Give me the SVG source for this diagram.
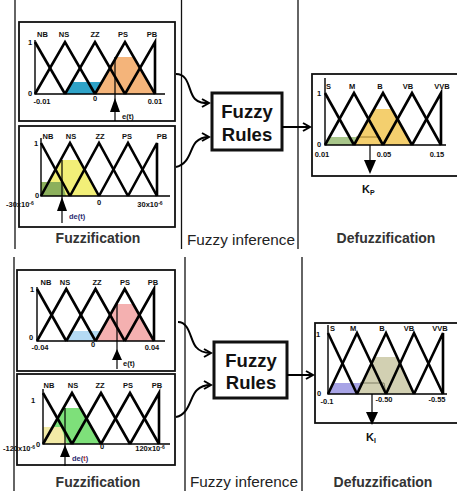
<svg xmlns="http://www.w3.org/2000/svg" width="457" height="491" viewBox="0 0 457 491">
<defs>
<style>
.sep{stroke:#111;stroke-width:1.3;fill:none}
.box{fill:#fff;stroke:#111;stroke-width:1.8}
.rules{fill:#fff;stroke:#111;stroke-width:3}
.mf{fill:none;stroke:#000;stroke-width:2.6;stroke-linejoin:miter}
.ax{fill:none;stroke:#000;stroke-width:1.4}
.ptr{fill:none;stroke:#000;stroke-width:1.2}
.lbl{font-family:"Liberation Sans",Arial,sans-serif;font-weight:bold;font-size:7.5px;fill:#111}
.tick{font-family:"Liberation Sans",Arial,sans-serif;font-weight:bold;font-size:7.5px;fill:#111;text-anchor:middle}
.sec{font-family:"Liberation Sans",Arial,sans-serif;font-weight:bold;font-size:14px;fill:#333;text-anchor:middle}
.inf{font-family:"Liberation Sans",Arial,sans-serif;font-size:14px;fill:#222}
.fr{font-family:"Liberation Sans",Arial,sans-serif;font-weight:bold;font-size:18.5px;fill:#111;text-anchor:middle}
.k{font-family:"Liberation Sans",Arial,sans-serif;font-weight:bold;font-size:11px;fill:#111}
.dt{font-family:"Liberation Sans",Arial,sans-serif;font-weight:bold;font-size:7.5px;fill:#2b2b70}
.con{fill:none;stroke:#000;stroke-width:2}
</style>
<marker id="ah" markerWidth="10" markerHeight="10" refX="8" refY="5" orient="auto" markerUnits="userSpaceOnUse">
<path d="M1,1 L8,5 L1,9" fill="none" stroke="#000" stroke-width="2"/>
</marker>
</defs>

<!-- section separators -->
<g id="separators">
<line class="sep" x1="15" y1="0" x2="15" y2="249"/>
<line class="sep" x1="181.5" y1="0" x2="181.5" y2="249"/>
<line class="sep" x1="298" y1="0" x2="298" y2="249"/>
<line class="sep" x1="14" y1="257" x2="14" y2="491"/>
<line class="sep" x1="185" y1="257" x2="185" y2="491"/>
<line class="sep" x1="302" y1="257" x2="302" y2="491"/>
</g>

<!-- Box 1: e(t) top -->
<g id="fuzz-e-top">
<rect class="box" x="19" y="22" width="156" height="99"/>
<polygon points="65,94 72,82 118,82 125,94" fill="#2fa3c8"/>
<polygon points="95,94 116,57 134,57 155,94" fill="#f4b47a"/>
<polyline class="ax" points="35,40 35,94 165,94"/>
<polyline class="mf" points="35,42 65,94"/>
<polyline class="mf" points="35,94 65,42 95,94"/>
<polyline class="mf" points="65,94 95,42 125,94"/>
<polyline class="mf" points="95,94 125,42 155,94"/>
<polyline class="mf" points="125,94 155,42 155,94"/>
<text class="lbl" x="37" y="37">NB</text>
<text class="tick" x="64" y="37">NS</text>
<text class="tick" x="95" y="37">ZZ</text>
<text class="tick" x="123" y="37">PS</text>
<text class="tick" x="152" y="37">PB</text>
<text class="tick" x="30" y="45">1</text>
<text class="tick" x="30" y="96">0</text>
<text class="tick" x="42" y="104">-0.01</text>
<text class="tick" x="95" y="101">0</text>
<text class="tick" x="155" y="104">0.01</text>
<line class="ptr" x1="115" y1="57" x2="115" y2="121"/>
<polygon points="115,98 110,112 120,112" fill="#000"/>
<text class="lbl" x="122" y="119">e(t)</text>
</g>

<!-- Box 2: de(t) top -->
<g id="fuzz-de-top">
<rect class="box" x="19" y="126" width="156" height="101"/>
<polygon points="41,196 60.7,160 79.3,160 99,196" fill="#f2ef78"/>
<polygon points="41,196 41,182 62,182 66,196" fill="#8cb05c"/>
<polyline class="ax" points="41,138 41,196 170,196"/>
<polyline class="mf" points="41,143 70,196"/>
<polyline class="mf" points="41,196 70,143 99,196"/>
<polyline class="mf" points="70,196 99,143 128,196"/>
<polyline class="mf" points="99,196 128,143 157,196"/>
<polyline class="mf" points="128,196 157,143 157,196"/>
<text class="tick" x="48" y="139">NB</text>
<text class="tick" x="71" y="139">NS</text>
<text class="tick" x="100" y="139">ZZ</text>
<text class="tick" x="127" y="139">PS</text>
<text class="tick" x="162" y="139">PB</text>
<text class="tick" x="36" y="146">1</text>
<text class="tick" x="37" y="198">0</text>
<text class="lbl" x="6" y="207">-30x10<tspan font-size="5" dy="-2">-6</tspan></text>
<text class="tick" x="99" y="205">0</text>
<text class="tick" x="150" y="207">30x10<tspan font-size="5" dy="-2">-6</tspan></text>
<line class="ptr" x1="62" y1="160" x2="62" y2="223"/>
<polygon points="62,197 57,211 67,211" fill="#000"/>
<text class="dt" x="69" y="219">de(t)</text>
</g>

<!-- Box 3: e(t) bottom -->
<g id="fuzz-e-bottom">
<rect class="box" x="17" y="270" width="158" height="101"/>
<polygon points="66,341 72,331 119,331 125,341" fill="#b4daf4"/>
<polygon points="95.5,341 116.3,304 133.2,304 154,341" fill="#f4b0b0"/>
<polyline class="ax" points="37,287 37,341 165,341"/>
<polyline class="mf" points="37,289 66.25,341"/>
<polyline class="mf" points="37,341 66.25,289 95.5,341"/>
<polyline class="mf" points="66.25,341 95.5,289 124.75,341"/>
<polyline class="mf" points="95.5,341 124.75,289 154,341"/>
<polyline class="mf" points="124.75,341 154,289 154,341"/>
<text class="tick" x="46" y="285">NB</text>
<text class="tick" x="65" y="285">NS</text>
<text class="tick" x="97" y="285">ZZ</text>
<text class="tick" x="125" y="285">PS</text>
<text class="tick" x="153" y="285">PB</text>
<text class="tick" x="32" y="292">1</text>
<text class="tick" x="31" y="340">0</text>
<text class="tick" x="40" y="350">-0.04</text>
<text class="tick" x="93" y="347">0</text>
<text class="tick" x="152" y="350">0.04</text>
<line class="ptr" x1="117" y1="304" x2="117" y2="369"/>
<polygon points="117,349 112,360 122,360" fill="#000"/>
<text class="lbl" x="123" y="366">e(t)</text>
</g>

<!-- Box 4: de(t) bottom -->
<g id="fuzz-de-bottom">
<rect class="box" x="17" y="374" width="158" height="91"/>
<polygon points="43,444 63.5,408 80.5,408 101,444" fill="#7ee07a"/>
<polygon points="43,444 43,427 61,427 67,444" fill="#f2eaa6"/>
<polyline class="ax" points="43,389 43,444 170,444"/>
<polyline class="mf" points="43,393 72,444"/>
<polyline class="mf" points="43,444 72,393 101,444"/>
<polyline class="mf" points="72,444 101,393 130,444"/>
<polyline class="mf" points="101,444 130,393 159,444"/>
<polyline class="mf" points="130,444 159,393 159,444"/>
<text class="tick" x="49" y="388">NB</text>
<text class="tick" x="73" y="388">NS</text>
<text class="tick" x="100" y="388">ZZ</text>
<text class="tick" x="128" y="388">PS</text>
<text class="tick" x="157" y="388">PB</text>
<text class="tick" x="33" y="403">1</text>
<text class="tick" x="38" y="447">0</text>
<text class="lbl" x="3" y="451">-120x10<tspan font-size="5" dy="-2">-6</tspan></text>
<text class="tick" x="102" y="449">0</text>
<text class="tick" x="150" y="451">120x10<tspan font-size="5" dy="-2">-6</tspan></text>
<line class="ptr" x1="65" y1="408" x2="65" y2="466"/>
<polygon points="65,445 60,457 70,457" fill="#000"/>
<text class="dt" x="72" y="461">de(<tspan fill="#c0392b">t</tspan>)</text>
</g>

<!-- Fuzzy rules -->
<g id="rules-top">
<rect class="rules" x="212" y="93" width="70" height="57"/>
<text class="fr" x="247" y="118">Fuzzy</text>
<text class="fr" x="247" y="141">Rules</text>
</g>
<g id="rules-bottom">
<rect class="rules" x="214" y="342" width="73" height="56"/>
<text class="fr" x="251" y="367">Fuzzy</text>
<text class="fr" x="251" y="389">Rules</text>
</g>

<!-- Defuzz top -->
<g id="defuzz-kp">
<rect class="box" x="312" y="74" width="150" height="102"/>
<polygon points="325,145 329.5,137 378.5,137 383,145" fill="#a8c68a"/>
<polygon points="354,145 374,109 392,109 412,145" fill="#f4cf6e"/>
<polyline points="356,137 380,137 382,145" fill="none" stroke="#8a6a20" stroke-width="0.8"/>
<polyline class="ax" points="325,78 325,145 446,145"/>
<polyline class="mf" points="325,93 354,145"/>
<polyline class="mf" points="325,145 354,93 383,145"/>
<polyline class="mf" points="354,145 383,93 412,145"/>
<polyline class="mf" points="383,145 412,93 441,145"/>
<polyline class="mf" points="412,145 441,93 441,145"/>
<text class="lbl" x="326" y="89">S</text>
<text class="tick" x="352" y="89">M</text>
<text class="tick" x="380" y="89">B</text>
<text class="tick" x="408" y="89">VB</text>
<text class="tick" x="442" y="89">VVB</text>
<text class="tick" x="319" y="96">1</text>
<text class="tick" x="319" y="147">0</text>
<text class="tick" x="322" y="157">0.01</text>
<text class="tick" x="384" y="157">0.05</text>
<text class="tick" x="437" y="157">0.15</text>
<line class="ptr" x1="370" y1="145" x2="370" y2="162"/>
<polygon points="370,174 364,160 376,160" fill="#000"/>
<text class="k" x="362" y="193">K<tspan font-size="7" dy="1.5">P</tspan></text>
</g>

<!-- Defuzz bottom -->
<g id="defuzz-ki">
<rect class="box" x="315" y="323" width="150" height="100"/>
<polygon points="328,394 333,383 381,383 386,394" fill="#a8a4e6"/>
<polygon points="357,394 374.6,357 396.4,357 414,394" fill="#d2d0b2"/>
<polyline points="360,383 384,383 386,394" fill="none" stroke="#6a6a50" stroke-width="0.8"/>
<polyline class="ax" points="328,325 328,394 447,394"/>
<polyline class="mf" points="328,333 357,394"/>
<polyline class="mf" points="328,394 357,333 386,394"/>
<polyline class="mf" points="357,394 386,333 414,394"/>
<polyline class="mf" points="386,394 414,333 443,394"/>
<polyline class="mf" points="414,394 443,333 443,394"/>
<text class="lbl" x="330" y="331">S</text>
<text class="tick" x="353" y="331">M</text>
<text class="tick" x="382" y="331">B</text>
<text class="tick" x="409" y="331">VB</text>
<text class="tick" x="440" y="331">VVB</text>
<text class="tick" x="318" y="337">1</text>
<text class="tick" x="319" y="396">0</text>
<text class="tick" x="327" y="404">-0.1</text>
<text class="tick" x="384" y="402">-0.50</text>
<text class="tick" x="437" y="402">-0.55</text>
<line class="ptr" x1="372" y1="394" x2="372" y2="414"/>
<polygon points="372,425 366,412 378,412" fill="#000"/>
<text class="k" x="366" y="441">K<tspan font-size="7" dy="1.5">I</tspan></text>
</g>

<!-- connectors -->
<g id="connectors">
<path class="con" marker-end="url(#ah)" d="M176,74 C190,74 188,92 195,99 C199,103 203,103 209,103"/>
<path class="con" marker-end="url(#ah)" d="M176,167 C190,164 190,148 196,142 C200,138 204,137 209,137"/>
<path class="con" marker-end="url(#ah)" d="M282,127 L310,127"/>
<path class="con" marker-end="url(#ah)" d="M178,322 C190,322 190,340 196,347 C200,352 205,353 211,353"/>
<path class="con" marker-end="url(#ah)" d="M176,417 C190,414 190,396 197,390 C201,386 206,385 211,385"/>
<path class="con" marker-end="url(#ah)" d="M287,375 L313,375"/>
</g>

<!-- section titles -->
<g id="titles">
<text class="sec" x="98" y="243">Fuzzification</text>
<text class="inf" x="187" y="245" textLength="108" lengthAdjust="spacingAndGlyphs">Fuzzy inference</text>
<text class="sec" x="386" y="243">Defuzzification</text>
<text class="sec" x="98" y="487">Fuzzification</text>
<text class="inf" x="190" y="487" textLength="108" lengthAdjust="spacingAndGlyphs">Fuzzy inference</text>
<text class="sec" x="383" y="487">Defuzzification</text>
</g>
</svg>
